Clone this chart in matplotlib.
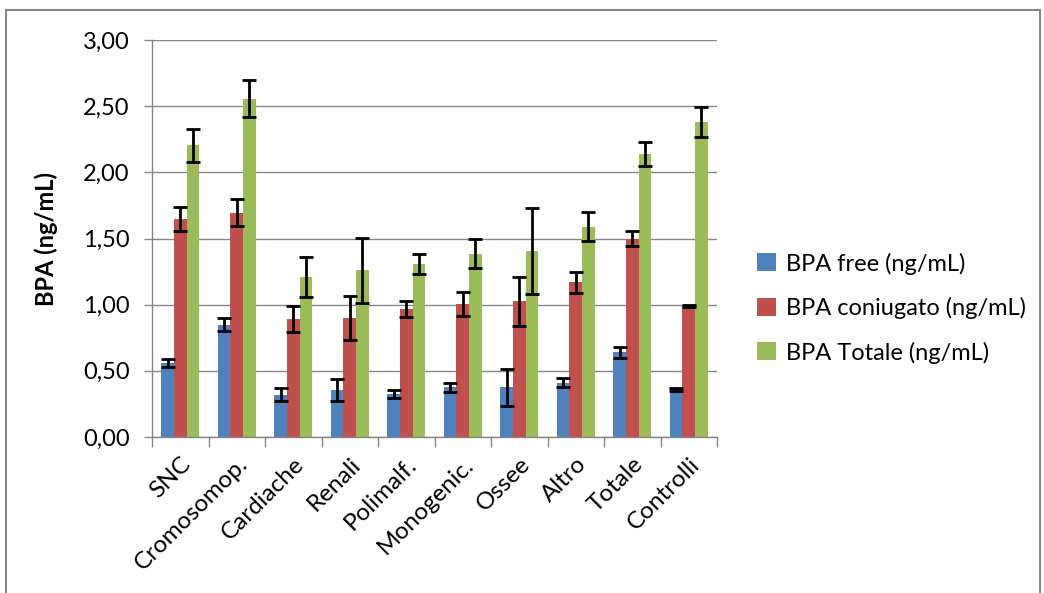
import matplotlib.pyplot as plt
import numpy as np
from matplotlib.patches import Rectangle
from matplotlib.ticker import FuncFormatter, FixedLocator

categories = ["SNC", "Cromosomop.", "Cardiache", "Renali", "Polimalf.",
              "Monogenic.", "Ossee", "Altro", "Totale", "Controlli"]

bpa_free = [0.56, 0.85, 0.32, 0.355, 0.325, 0.375, 0.375, 0.41, 0.64, 0.36]
bpa_free_err = [0.03, 0.05, 0.05, 0.08, 0.03, 0.035, 0.14, 0.035, 0.04, 0.01]

bpa_coniugato = [1.645, 1.695, 0.89, 0.90, 0.965, 1.005, 1.025, 1.17, 1.50, 0.99]
bpa_coniugato_err = [0.09, 0.10, 0.10, 0.165, 0.06, 0.09, 0.185, 0.08, 0.06, 0.01]

bpa_totale = [2.205, 2.555, 1.21, 1.26, 1.305, 1.385, 1.405, 1.59, 2.14, 2.38]
bpa_totale_err = [0.125, 0.14, 0.15, 0.245, 0.075, 0.11, 0.325, 0.11, 0.09, 0.11]

series = [
    ("BPA free (ng/mL)", bpa_free, bpa_free_err, "#4F81BD"),
    ("BPA coniugato (ng/mL)", bpa_coniugato, bpa_coniugato_err, "#C0504D"),
    ("BPA Totale (ng/mL)", bpa_totale, bpa_totale_err, "#9BBB59"),
]

plt.rcParams["font.family"] = ["Lato", "DejaVu Sans"]

W, H = 1044, 593
fig = plt.figure(figsize=(W / 100, H / 100), dpi=100)
ax = fig.add_axes([152 / W, 1 - 437 / H, (717 - 152) / W, (437 - 40) / H])

# outer chart border
fig.patches.append(Rectangle((6 / W, -0.1), (1040 - 6) / W, 1.1 - 10 / H,
                             transform=fig.transFigure, fill=False,
                             edgecolor="#868686", linewidth=1.5))

x = np.arange(len(categories))
width = 0.225
for i, (label, vals, errs, color) in enumerate(series):
    ax.bar(x + (i - 1) * width, vals, width, color=color, label=label,
           yerr=errs, error_kw=dict(ecolor="black", elinewidth=2,
                                    capsize=5, capthick=2), zorder=2)

ax.set_xlim(-0.5, len(categories) - 0.5)
ax.set_ylim(0, 3.0)
ax.set_yticks(np.arange(0, 3.01, 0.5))
ax.yaxis.set_major_formatter(FuncFormatter(lambda v, p: f"{v:.2f}".replace(".", ",")))
ax.yaxis.grid(True, color="#868686", linewidth=1)
ax.set_axisbelow(True)

ax.set_xticks(x)
ax.set_xticklabels(categories, rotation=45, ha="right", rotation_mode="anchor")
ax.tick_params(axis="x", which="major", length=0, pad=12, labelsize=17.5)
ax.xaxis.set_minor_locator(FixedLocator(np.arange(-0.5, len(categories), 1)))
ax.tick_params(axis="x", which="minor", length=7, color="#868686", width=1)
ax.tick_params(axis="y", length=6, color="#868686", width=1, labelsize=17, pad=10)

for side in ["top", "right"]:
    ax.spines[side].set_visible(False)
for side in ["left", "bottom"]:
    ax.spines[side].set_color("#868686")
    ax.spines[side].set_linewidth(1)

ax.set_ylabel("BPA (ng/mL)", fontsize=17, fontweight="bold", labelpad=18)

fig.legend(loc="center left", bbox_to_anchor=(736 / W, 1 - 308 / H),
           frameon=False, fontsize=17, handlelength=0.8, handleheight=0.8,
           handletextpad=0.4, labelspacing=0.95)

fig.savefig("out.png", dpi=100)
